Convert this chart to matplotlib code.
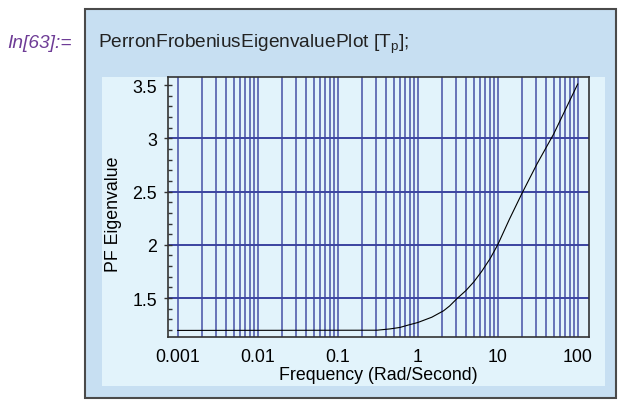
import matplotlib
matplotlib.use("Agg")
import matplotlib.pyplot as plt
from matplotlib.patches import Rectangle
import numpy as np

plt.rcParams['font.family'] = ['Liberation Sans', 'DejaVu Sans']

# values
freq = [0.001, 0.31, 0.45, 0.6, 0.75, 1.0, 1.5, 2.1, 2.5, 3.1, 4.0, 5.0, 6.3, 8.0, 10,
        14, 20, 31, 50, 100]
pf_eig = [1.196, 1.198, 1.21, 1.224, 1.245, 1.27, 1.32, 1.38, 1.425, 1.495, 1.57, 1.65, 1.75, 1.868, 2.0,
          2.24, 2.48, 2.76, 3.04, 3.51]

xtick_vals = [0.001, 0.01, 0.1, 1, 10, 100]
xtick_labels = ['0.001', '0.01', '0.1', '1', '10', '100']
ytick_vals = [1.5, 2, 2.5, 3, 3.5]
ytick_labels = ['1.5', '2', '2.5', '3', '3.5']
hgrid = [1.5, 2, 2.5, 3]

W, H = 621, 402
fig = plt.figure(figsize=(W / 100, H / 100), dpi=100)
fig.patch.set_facecolor('white')


def fx(px):
    return px / W


def fy(py):
    return 1 - py / H


# outer notebook cell box
fig.patches.append(Rectangle((fx(85), fy(399)), fx(616) - fx(85), fy(10) - fy(399),
                             transform=fig.transFigure, facecolor='#c7dff2',
                             edgecolor='#4a4a4a', linewidth=1.5, zorder=-3))
# inner graphics panel
fig.patches.append(Rectangle((fx(102), fy(387)), fx(605) - fx(102), fy(78) - fy(387),
                             transform=fig.transFigure, facecolor='#e2f3fb',
                             edgecolor='none', zorder=-2))

fig.text(fx(7), fy(48), 'In[63]:=', fontsize=13.8, style='italic', color='#6e3c96',
         ha='left', va='baseline')
fig.text(fx(98), fy(48), r'PerronFrobeniusEigenvaluePlot [T$_\mathregular{p}$];',
         fontsize=13.8, color='#222222', ha='left', va='baseline')

ax = fig.add_axes([fx(168.3), fy(337.7), fx(589) - fx(168.3), fy(78) - fy(337.7)])
ax.set_facecolor('#e2f3fb')
ax.set_xscale('log')
ax.set_xlim(10 ** -3.1175, 10 ** 2.141)
ax.set_ylim(1.137, 3.576)

# grid lines: decades plus 2..9 in between
for dec in range(-3, 3):
    for m in range(1, 10):
        v = m * 10.0 ** dec
        if v > 100.5:
            break
        ax.axvline(v, color='#4650a6', linewidth=1.1, zorder=1)
for v in hgrid:
    ax.axhline(v, color='#3b44a0', linewidth=1.4, zorder=1)

ax.plot(freq, pf_eig, color='black', linewidth=0.8, zorder=3)

ax.set_xticks(xtick_vals)
ax.set_xticklabels(xtick_labels)
ax.xaxis.set_minor_locator(matplotlib.ticker.NullLocator())
ax.tick_params(axis='x', length=0, labelsize=12.8, pad=8)
ax.set_yticks(ytick_vals)
ax.set_yticklabels(ytick_labels)
ax.set_yticks(np.arange(1.2, 3.55, 0.1), minor=True)
ax.tick_params(axis='y', which='major', direction='inout', length=6, width=1,
               labelsize=12.8, pad=5, color='#333333')
ax.tick_params(axis='y', which='minor', direction='in', length=3, width=1, color='#333333')

for s in ax.spines.values():
    s.set_color('#333333')
    s.set_linewidth(1.2)

ax.set_xlabel('Frequency (Rad/Second)', fontsize=12.8, labelpad=1)
ax.set_ylabel('PF Eigenvalue', fontsize=12.8)
ax.yaxis.set_label_coords(-0.111, 0.476)

fig.savefig('out.png', dpi=100)
